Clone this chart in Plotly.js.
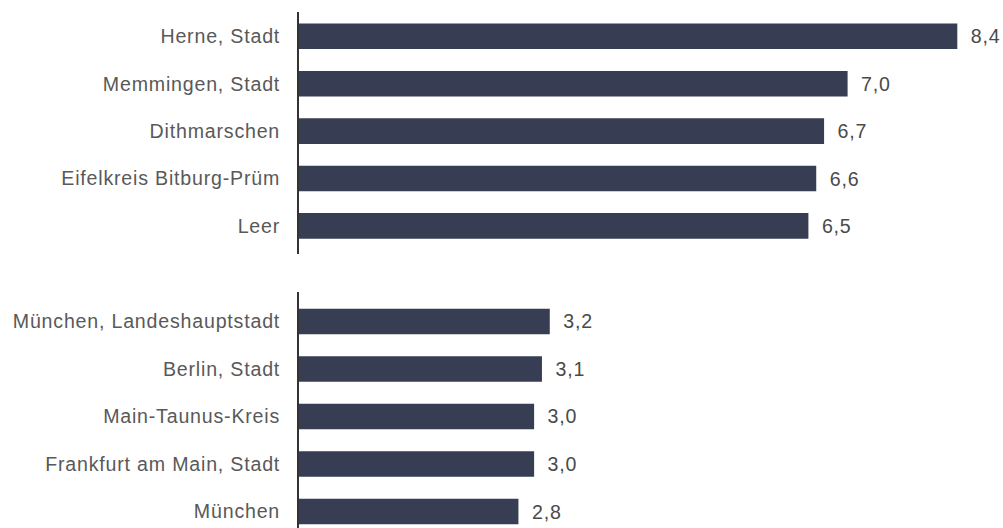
<!DOCTYPE html>
<html>
<head>
<meta charset="utf-8">
<script src="https://cdn.plot.ly/plotly-3.0.1.min.js"></script>
<style>
html,body{margin:0;padding:0;background:#fff;}
#chart{width:1003px;height:528px;}
#chart svg text{letter-spacing:0.8px;}
</style>
</head>
<body>
<div id="chart"></div>
<script>
// Top group (highest values)
var topCategories = ["Herne, Stadt", "Memmingen, Stadt", "Dithmarschen", "Eifelkreis Bitburg-Prüm", "Leer"];
var topValues = [8.4, 7.0, 6.7, 6.6, 6.5];
// Bottom group (lowest values)
var bottomCategories = ["München, Landeshauptstadt", "Berlin, Stadt", "Main-Taunus-Kreis", "Frankfurt am Main, Stadt", "München"];
var bottomValues = [3.2, 3.1, 3.0, 3.0, 2.8];

var barColor = "#373e53";
var labelFont = {family: "Liberation Sans, Arial, sans-serif", size: 19.6, color: "#595959"};
var valueFont = {family: "Liberation Sans, Arial, sans-serif", size: 19.6, color: "#4a4a4a"};

function fmt(v) {
  return "\u00a0\u00a0" + v.toFixed(1).replace(".", ",");
}

var traces = [
  {
    type: "bar", orientation: "h",
    x: topValues, y: topCategories,
    xaxis: "x", yaxis: "y",
    marker: {color: barColor},
    width: 0.54,
    text: topValues.map(fmt),
    textposition: "outside",
    textfont: valueFont,
    cliponaxis: false,
    hoverinfo: "x+y"
  },
  {
    type: "bar", orientation: "h",
    x: bottomValues, y: bottomCategories,
    xaxis: "x", yaxis: "y2",
    marker: {color: barColor},
    width: 0.54,
    text: bottomValues.map(fmt),
    textposition: "outside",
    textfont: valueFont,
    cliponaxis: false,
    hoverinfo: "x+y"
  }
];

var yCommon = {
  type: "category",
  showline: true, linecolor: "#333333", linewidth: 2,
  showgrid: false, zeroline: false,
  ticks: "", ticklabelstandoff: 13,
  tickfont: labelFont,
  fixedrange: true
};

var layout = {
  width: 1003, height: 528,
  margin: {l: 299, r: 0, t: 0, b: 0, pad: 0},
  paper_bgcolor: "#ffffff", plot_bgcolor: "#ffffff",
  showlegend: false,
  xaxis: {
    range: [0, 8.983], visible: false, showgrid: false, zeroline: false,
    anchor: "y2", fixedrange: true
  },
  yaxis: Object.assign({}, yCommon, {
    domain: [0.5189, 0.9773],
    range: [4.593, -0.513],
    anchor: "x"
  }),
  yaxis2: Object.assign({}, yCommon, {
    domain: [0, 0.447],
    range: [4.347, -0.621],
    anchor: "x"
  })
};

Plotly.newPlot("chart", traces, layout, {displayModeBar: false, staticPlot: true});
</script>
</body>
</html>
